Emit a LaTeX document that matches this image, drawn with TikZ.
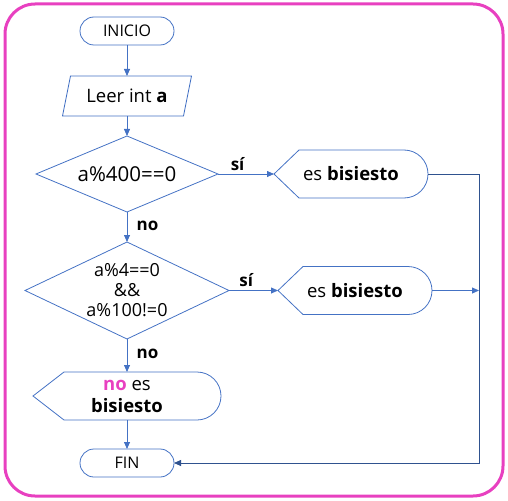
\documentclass[tikz,border=0pt]{standalone}
\usepackage{fontspec}
\setmainfont{Open Sans}
\usepackage{xcolor}
\usepackage{tikz}
\usetikzlibrary{arrows.meta,positioning,shapes.geometric}
\definecolor{flow}{HTML}{4472C4}
\definecolor{flowdk}{HTML}{2F528F}
\definecolor{pk}{HTML}{E840C0}
\tikzset{
  blk/.style={align=center, inner sep=0pt, outer sep=0pt, font=\fontsize{18.5}{22}\selectfont},
  term/.style={blk, draw=flow, rounded corners=14pt, minimum width=94pt, minimum height=28pt, font=\fontsize{16}{19}\selectfont},
  io/.style={blk, minimum width=129pt, minimum height=40pt},
  dec/.style={blk, draw=flow, diamond},
  disp/.style={blk, minimum height=48pt},
  shp/.style={draw=flow, line width=0.8pt},
  arr/.style={-{Triangle[length=7pt,width=6pt]}, draw=flow, line width=0.8pt},
  lbl/.style={font=\fontsize{17}{20}\selectfont\bfseries},
}
\begin{document}
\begin{tikzpicture}[x=1pt, y=1pt, line width=0.8pt]
\useasboundingbox (0,0) rectangle (508,-500);
\draw[pk, line width=3pt, rounded corners=30pt] (5,-4) rectangle (503,-496);
\node[term] (ini) at (127,-31) {INICIO};
\node[io, below=31pt of ini] (leer) {Leer int \textbf{a}};
\node[dec, below=20pt of leer, aspect=2.4, minimum width=182pt, minimum height=76pt, font=\fontsize{20.5}{24}\selectfont] (d1) {a\%400==0};
\node[dec, below=30pt of d1, aspect=2.1, minimum width=204pt, minimum height=97pt, font=\fontsize{18}{20}\selectfont] (d2) {a\%4==0\\\&\&\\a\%100!=0};
\node[disp, below=33pt of d2, minimum width=188pt] (b3) {\textcolor{pk}{\textbf{no}} es\\\textbf{bisiesto}};
\node[term, below=29pt of b3] (fin) {FIN};
\node[disp, right=56pt of d1, minimum width=154pt] (b1) {es \textbf{bisiesto}};
\node[disp, right=49pt of d2, minimum width=154pt] (b2) {es \textbf{bisiesto}};
\coordinate[right=51pt of b1.east] (j);
% input and display outlines
\draw[shp] (leer.south west) -- ([xshift=8pt]leer.north west) -- (leer.north east)
  -- ([xshift=-8pt]leer.south east) -- cycle;
\foreach \n/\t in {b1/25,b2/25,b3/31}
  \draw[shp] (\n.west) -- ([xshift=\t pt]\n.north west) -- ([xshift=-24pt]\n.north east)
    arc[start angle=90, end angle=-90, radius=24pt] -- ([xshift=\t pt]\n.south west) -- cycle;
\draw[arr] (ini) -- (leer);
\draw[arr] (leer) -- (d1);
\draw[arr] (d1) -- node[lbl, right=6pt, pos=0.45]{no} (d2);
\draw[arr] (d2) -- node[lbl, right=6pt, pos=0.45]{no} (b3);
\draw[arr] (b3) -- (fin);
\draw[arr] (d1) -- node[lbl, above, pos=0.35]{sí} (b1);
\draw[arr] (d2) -- node[lbl, above, pos=0.35]{sí} (b2);
\draw[arr, draw=flowdk] (b1.east) -- (j) |- (fin.east);
\draw[arr] (b2.east) -- (b2.east -| j);
\end{tikzpicture}
\end{document}
